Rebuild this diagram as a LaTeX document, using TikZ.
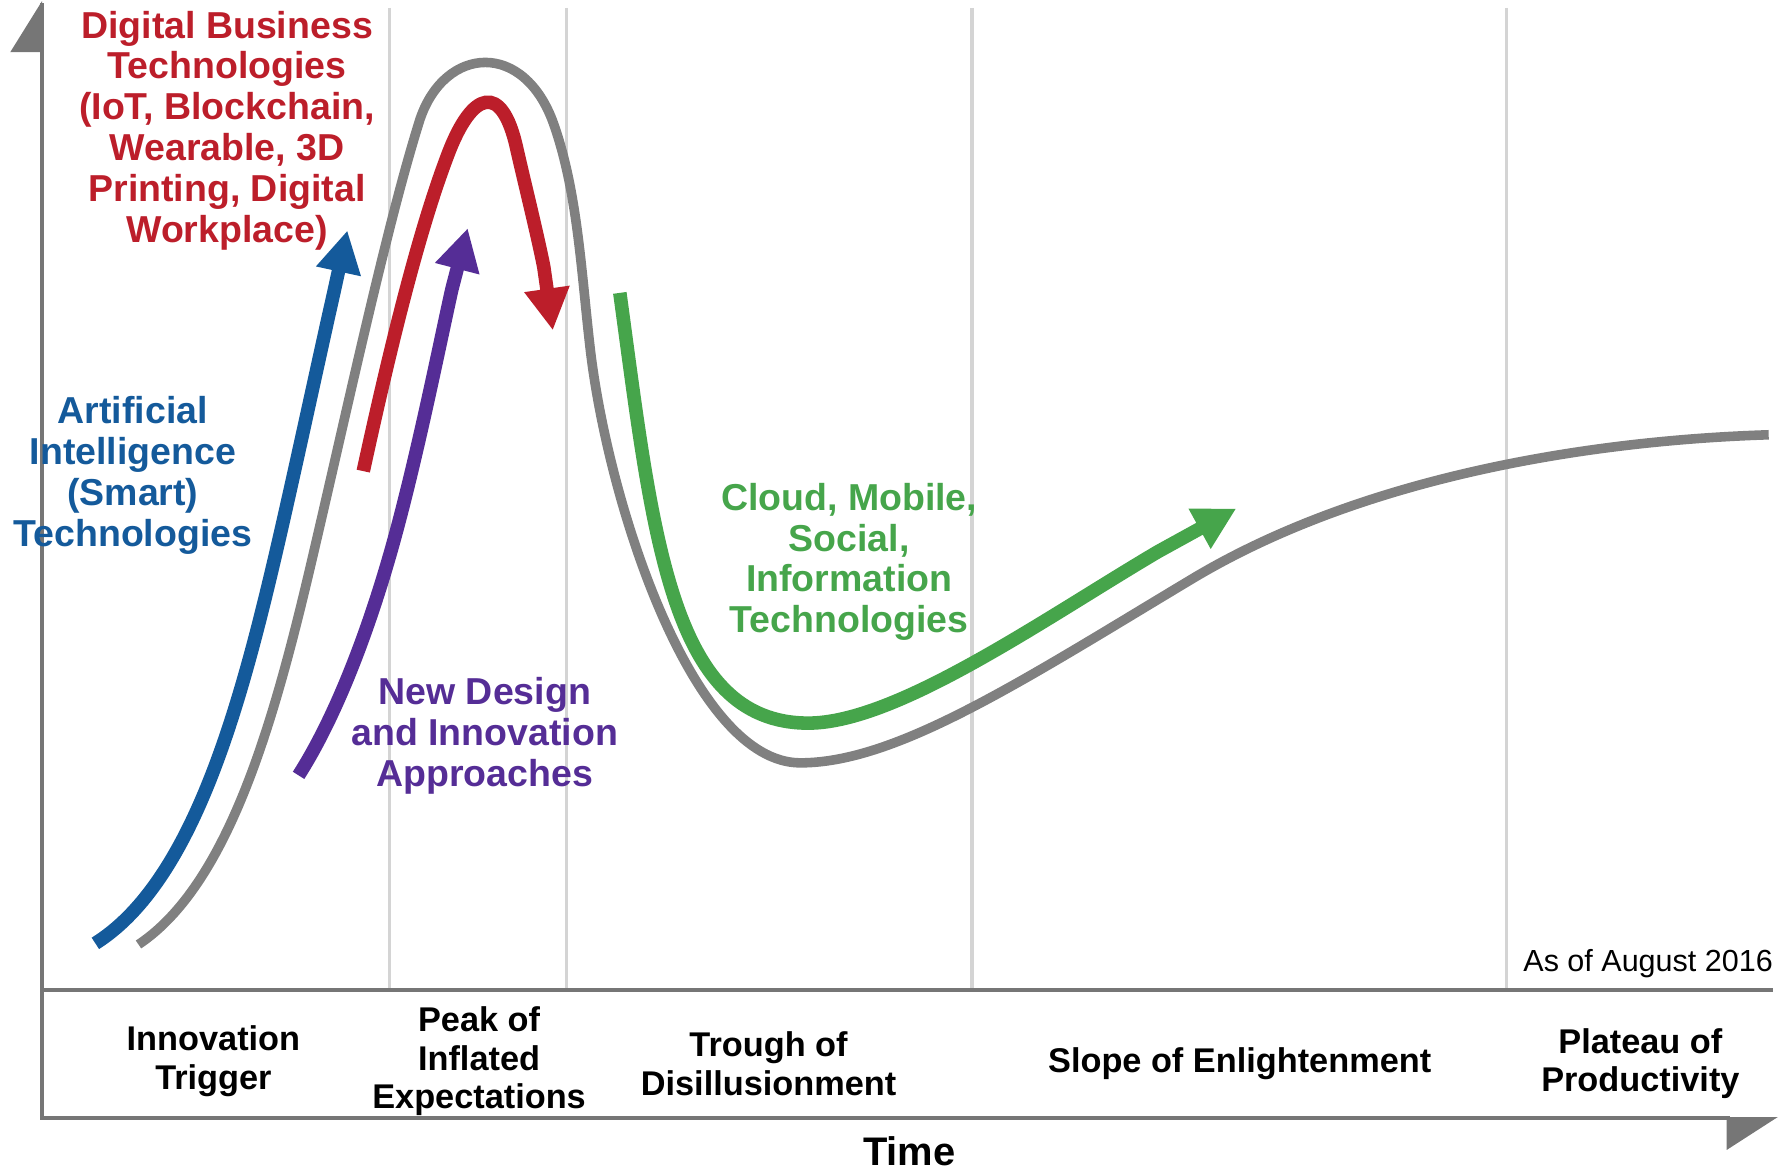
\documentclass[tikz,border=0pt]{standalone}
\usepackage{fontspec}
\setmainfont{Liberation Sans}
\usetikzlibrary{arrows.meta}
\definecolor{cRed}{RGB}{188,30,42}
\definecolor{cBlue}{RGB}{20,90,155}
\definecolor{cPurple}{RGB}{85,45,150}
\definecolor{cGreen}{RGB}{70,165,75}
\definecolor{cCurve}{RGB}{128,128,128}
\definecolor{cGrid}{RGB}{212,212,212}
\definecolor{cAxis}{RGB}{118,118,118}
\begin{document}
\begin{tikzpicture}[x=0.02cm,y=-0.02cm,
  lbl/.style={font=\bfseries\fontsize{18.8}{20.5}\selectfont, align=center, inner sep=0pt},
  phase/.style={font=\bfseries\fontsize{17.2}{19.4}\selectfont, align=center, inner sep=0pt, text=black},
  tech/.style={line width=6.8pt, -{Triangle[length=21pt,width=21.5pt]}},
  gridline/.style={cGrid, line width=1.8pt},
  axisline/.style={cAxis, line width=2pt},
  hype/.style={cCurve, line width=4.8pt, line cap=butt}
]
\useasboundingbox (0,0) rectangle (1568,1033);
% grid lines
\foreach \gx in {343,499,856,1327} \draw[gridline] (\gx,7) -- (\gx,872);
% axes
\draw[axisline] (37,3) -- (37,985) -- (1524,985);
\draw[axisline] (37,872) -- (1562,872);
\fill[cAxis] (9,46) -- (37,46) -- (37,1) -- cycle;
\fill[cAxis] (1521,984) -- (1566,984) -- (1521,1013) -- cycle;
% hype curve
\draw[hype] (122,832) .. controls (200,780) and (240,640) .. (272,505)
  .. controls (305,365) and (340,200) .. (370,105)
  .. controls (392,40) and (462,35) .. (488,110)
  .. controls (509,170) and (512,240) .. (520,308)
  .. controls (536,444) and (610,672) .. (705,672)
  .. controls (790,672) and (900,600) .. (1050,510)
  .. controls (1200,420) and (1400,388) .. (1558,383);
% technology arrows
\draw[tech, cBlue] (84,831) .. controls (165,780) and (207,640) .. (240,500)
  .. controls (255,437) and (280,320) .. (294,258) -- (306,203);
\draw[tech, cPurple] (263,683) .. controls (300,625) and (330,540) .. (350,465)
  .. controls (370,390) and (388,300) .. (398,255) -- (412,201);
\draw[tech, cRed] (320,415) .. controls (345,300) and (370,200) .. (395,135)
  .. controls (416,80) and (442,72) .. (455,130)
  .. controls (462,161) and (473,205) .. (479,235) -- (487,291);
\draw[tech, cGreen] (546,258) .. controls (575,470) and (590,637) .. (712,637)
  .. controls (790,637) and (920,545) .. (1020,486) -- (1089,448);
% labels
\node[lbl, text=cRed] (lRed) at (200,115) {Digital Business\\Technologies\\(IoT, Blockchain,\\Wearable, 3D\\Printing, Digital\\Workplace)};
\node[lbl, text=cBlue] (lBlue) at (117,419) {Artificial\\Intelligence\\(Smart)\\Technologies};
\node[lbl, text=cPurple] (lPurple) at (427,648) {New Design\\and Innovation\\Approaches};
\node[lbl, text=cGreen] (lGreen) at (748,495) {Cloud, Mobile,\\Social,\\Information\\Technologies};
\node[font=\fontsize{15.3}{17}\selectfont, anchor=east, inner sep=0pt] (asof) at (1562,849) {As of August 2016};
% phases
\node[phase] (p1) at (188,935) {Innovation\\Trigger};
\node[phase] (p2) at (422,935) {Peak of\\Inflated\\Expectations};
\node[phase] (p3) at (677,937) {Trough of\\Disillusionment};
\node[phase] (p4) at (1092,937) {Slope of Enlightenment};
\node[phase] (p5) at (1445,937) {Plateau of\\Productivity};
\node[font=\bfseries\fontsize{20}{22}\selectfont, inner sep=0pt] (time) at (801,1014) {Time};
\end{tikzpicture}
\end{document}
